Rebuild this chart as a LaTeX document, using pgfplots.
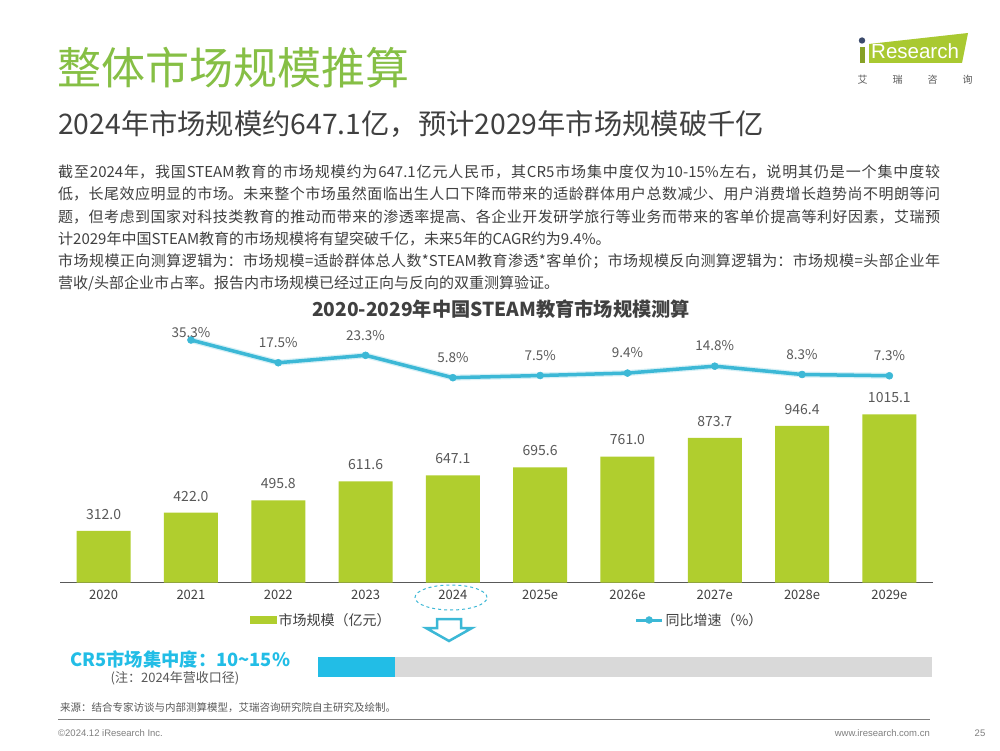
\documentclass[border=0pt]{standalone}
\usepackage{pgfplots}
\pgfplotsset{compat=1.18}
\usepackage{fontspec}
\setmainfont{Noto Sans CJK SC}
\newfontfamily\lat{Liberation Sans}
\XeTeXlinebreaklocale "zh"
\XeTeXlinebreakskip=0pt plus 2pt
\definecolor{txt}{HTML}{404040}
\definecolor{lab}{HTML}{595959}
\definecolor{barg}{HTML}{B0CE2E}
\definecolor{titleg}{HTML}{86BF45}
\definecolor{linec}{HTML}{3CB8D6}
\definecolor{cr5c}{HTML}{22BDE6}
\definecolor{grayb}{HTML}{D9D9D9}
\definecolor{foot}{HTML}{7F7F7F}
\definecolor{logog}{HTML}{A9C931}
\definecolor{logod}{HTML}{3B4A6B}
\begin{document}
\begin{tikzpicture}[x=1pt,y=1pt]
\useasboundingbox (0,0) rectangle (1000,750);
\fill[white] (0,0) rectangle (1000,750);
% titles
\node[anchor=west, inner sep=0pt, text=titleg, font=\fontsize{44}{48}\selectfont] at (57,682) {整体市场规模推算};
\node[anchor=west, inner sep=0pt, text=txt, font=\fontsize{28.3}{31}\selectfont] at (58,626) {2024年市场规模约647.1亿，预计2029年市场规模破千亿};
% logo
\fill[logog] (869,706) -- (968,717) -- (962,687) -- (869,687) -- cycle;
\fill[logog!80!black] (859.5,687) rectangle (865,703);
\fill[logod] (862,709.5) circle (3.2);
\node[anchor=west, inner sep=0pt, text=white, font=\lat\fontsize{20.5}{22}\selectfont] at (871,699) {Research};
\node[inner sep=0pt, text=lab, font=\fontsize{10}{12}\selectfont] at (915,670) {艾\hspace{25pt}瑞\hspace{25pt}咨\hspace{25pt}询};
% paragraph
\node[anchor=north west, inner sep=0pt, text width=882pt, align=justify, text=txt, font=\fontsize{15}{22.3}\selectfont] at (58,585.5) {\setlength{\parindent}{0pt}\setlength{\parskip}{0pt}截至2024年，我国STEAM教育的市场规模约为647.1亿元人民币，其CR5市场集中度仅为10-15\%左右，说明其仍是一个集中度较\linebreak 低，长尾效应明显的市场。未来整个市场虽然面临出生人口下降而带来的适龄群体用户总数减少、用户消费增长趋势尚不明朗等问\linebreak 题，但考虑到国家对科技类教育的推动而带来的渗透率提高、各企业开发研学旅行等业务而带来的客单价提高等利好因素，艾瑞预\linebreak 计2029年中国STEAM教育的市场规模将有望突破千亿，未来5年的CAGR约为9.4\%。\par 市场规模正向测算逻辑为：市场规模=适龄群体总人数*STEAM教育渗透*客单价；市场规模反向测算逻辑为：市场规模=头部企业年\linebreak 营收/头部企业市占率。报告内市场规模已经过正向与反向的双重测算验证。};
% chart title
\node[text=txt, font=\bfseries\fontsize{19.2}{21}\selectfont] at (501,441) {2020-2029年中国STEAM教育市场规模测算};
% bar axis
\begin{axis}[
  at={(60pt,167.3pt)}, anchor=south west, scale only axis,
  width=873pt, height=182.4pt,
  xmin=-0.5, xmax=9.5, ymin=0, ymax=1100,
  axis x line*=bottom, axis y line=none,
  x axis line style={draw=lab, line width=1.2pt, -},
  xtick={0,...,9},
  xticklabels={2020,2021,2022,2023,2024,2025e,2026e,2027e,2028e,2029e},
  major tick length=0pt, ytick=\empty,
  tick label style={font=\fontsize{13}{15}\selectfont, text=txt},
  xticklabel style={yshift=-4pt},
  /pgf/number format/assume math mode=true,
  /pgf/number format/fixed, /pgf/number format/fixed zerofill,
  /pgf/number format/precision=1, /pgf/number format/1000 sep={},
  clip=false,
  legend style={draw=none, fill=none, at={(0.2176,-0.2045)}, anchor=west,
    font=\fontsize{14}{16}\selectfont, text=txt, inner sep=0pt,
    /tikz/every even column/.append style={column sep=242pt}},
  legend columns=2, legend cell align=left,
]
\addlegendimage{legend image code/.code={\fill[barg] (0pt,-3.5pt) rectangle (26pt,3.5pt);}}
\addlegendimage{legend image code/.code={\draw[linec, line width=3pt] (0pt,0pt)--(26pt,0pt); \fill[linec] (13pt,0pt) circle (3.5pt);}}
\addplot[ybar, bar width=54pt, fill=barg, draw=none,
  nodes near coords, nodes near coords style={font=\fontsize{14}{16}\selectfont, text=lab, yshift=8pt}]
  coordinates {(0,312.0) (1,422.0) (2,495.8) (3,611.6) (4,647.1) (5,695.6) (6,761.0) (7,873.7) (8,946.4) (9,1015.1)};
\legend{市场规模（亿元）,同比增速（\%）}
\end{axis}
% line axis
\begin{axis}[
  at={(60pt,364.9pt)}, anchor=south west, scale only axis,
  width=873pt, height=51.12pt,
  xmin=-0.5, xmax=9.5, ymin=0, ymax=40, hide axis, clip=false,
  /pgf/number format/assume math mode=true,
  /pgf/number format/fixed, /pgf/number format/fixed zerofill,
  /pgf/number format/precision=1,
]
\addplot[linec!35, line width=6pt, opacity=0.6] coordinates {(1,35.3) (2,17.5) (3,23.3) (4,5.8) (5,7.5) (6,9.4) (7,14.8) (8,8.3) (9,7.3)};
\addplot[linec, line width=3.5pt, mark=*, mark size=3.5pt, mark options={fill=linec, draw=linec, line width=0.5pt}]
  coordinates {(1,35.3) (2,17.5) (3,23.3) (4,5.8) (5,7.5) (6,9.4) (7,14.8) (8,8.3) (9,7.3)};
\addplot[draw=none, nodes near coords={\pgfmathprintnumber{\pgfplotspointmeta}\%},
  nodes near coords style={font=\fontsize{13.5}{15}\selectfont, text=lab, yshift=11.5pt}]
  coordinates {(2,17.5) (3,23.3) (4,5.8) (5,7.5) (6,9.4) (7,14.8) (8,8.3) (9,7.3)};
\addplot[draw=none, nodes near coords={\pgfmathprintnumber{\pgfplotspointmeta}\%},
  nodes near coords style={font=\fontsize{13.5}{15}\selectfont, text=lab, yshift=-1.5pt}]
  coordinates {(1,35.3)};
\end{axis}
% highlight 2024
\draw[linec, dashed, line width=1pt] (451,152.5) ellipse (36 and 12.5);
\draw[linec, line width=2.5pt, fill=white, line join=miter] (437,131) -- (461,131) -- (461,122) -- (472,122) -- (449,109) -- (426,122) -- (437,122) -- cycle;
% CR5
\node[anchor=west, inner sep=0pt, text=cr5c, font=\bfseries\fontsize{18.3}{20}\selectfont] at (70,91) {CR5市场集中度：10\char`\~15\%};
\node[inner sep=0pt, text=lab, font=\fontsize{13}{15}\selectfont] at (175,72) {(注：2024年营收口径)};
\fill[grayb] (318,73) rectangle (932,93);
\fill[cr5c] (318,73) rectangle (395,93);
% footer
\node[anchor=west, inner sep=0pt, text=lab, font=\fontsize{10.5}{12}\selectfont] at (60,42) {来源：结合专家访谈与内部测算模型，艾瑞咨询研究院自主研究及绘制。};
\draw[foot, line width=0.8pt] (58,31) -- (930,31);
\node[anchor=west, inner sep=0pt, text=foot, font=\lat\fontsize{9.5}{11}\selectfont] at (58,17) {©2024.12 iResearch Inc.};
\node[anchor=east, inner sep=0pt, text=foot, font=\lat\fontsize{9.5}{11}\selectfont] at (930,17) {www.iresearch.com.cn};
\node[inner sep=0pt, text=foot, font=\lat\fontsize{9.5}{11}\selectfont] at (980,17) {25};
\end{tikzpicture}
\end{document}
